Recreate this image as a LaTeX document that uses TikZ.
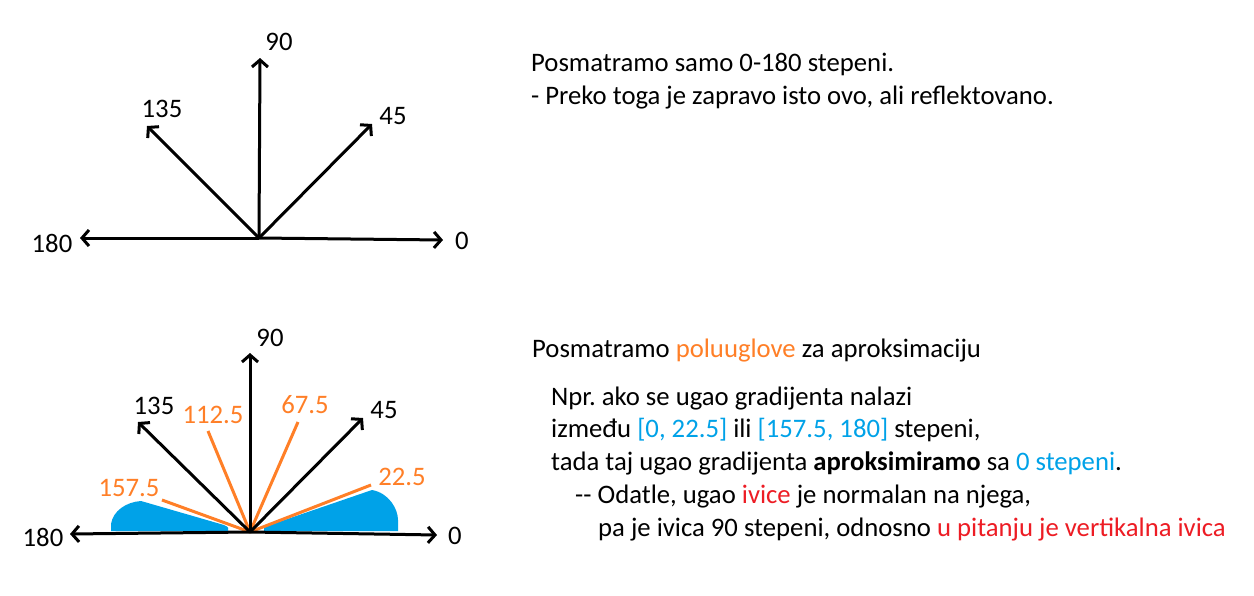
\documentclass[tikz,border=0pt]{standalone}
\usepackage{fontspec}
\setmainfont{Carlito}
\usetikzlibrary{arrows.meta}
\definecolor{porange}{HTML}{FF7F27}
\definecolor{pblue}{HTML}{00A2E8}
\definecolor{pred}{HTML}{ED1C24}
\frenchspacing
\begin{document}
\begin{tikzpicture}[x=1pt,y=-1pt,
  arr/.style={line width=3pt,-{Straight Barb[length=7pt,width=16pt,line width=3pt]}},
  oline/.style={line width=3pt,porange},
  lbl/.style={inner sep=0pt,font=\fontsize{26.7}{32}\selectfont},
  olbl/.style={lbl,text=porange},
  txt/.style={inner sep=0pt,anchor=base west,font=\fontsize{26.7}{32}\selectfont\frenchspacing},
  blob/.style={fill=pblue,draw=none}
]
\useasboundingbox[fill=white] (0,0) rectangle (1254,595);

% ---------- top diagram ----------
\coordinate (o1) at (259,238);
\coordinate (a0) at (443,240);
\coordinate (a180) at (80,238);
\coordinate (a90) at (260,58);
\coordinate (a135) at (147,126);
\coordinate (a45) at (372,124);
\draw[arr] (o1) -- (a0);
\draw[arr] (o1) -- (a180);
\draw[arr] (o1) -- (a90);
\draw[arr] (o1) -- (a135);
\draw[arr] (o1) -- (a45);
\node[lbl] (l90)  at (279,42)  {90};
\node[lbl] (l135) at (162,109) {135};
\node[lbl] (l45)  at (393,116) {45};
\node[lbl] (l180) at (52,243)  {180};
\node[lbl] (l0)   at (462,241) {0};

% ---------- bottom diagram ----------
\path[blob] (111,531) -- (111,524) .. controls (113,511) and (126,502) .. (141,501)
  -- (224,525) .. controls (229,527) and (229,529) .. (228,531) -- cycle;
\path[blob] (264,531) -- (264,527) -- (372,490)
  .. controls (389,493) and (398,509) .. (398,520) -- (398,531) -- cycle;

\coordinate (o2) at (250,532);
\coordinate (b0) at (437,535);
\coordinate (b180) at (70,534);
\coordinate (b90) at (250,353);
\coordinate (b135) at (138,422);
\coordinate (b45) at (363,418);
\coordinate (c112) at (208,431);
\coordinate (c67) at (298,422);
\coordinate (c157) at (162,500);
\coordinate (c22) at (371,485);
\draw[oline] (o2) -- (c112);
\draw[oline] (o2) -- (c67);
\draw[oline] (o2) -- (c157);
\draw[oline] (o2) -- (c22);
\draw[arr] (o2) -- (b0);
\draw[arr] (o2) -- (b180);
\draw[arr] (o2) -- (b90);
\draw[arr] (o2) -- (b135);
\draw[arr] (o2) -- (b45);
\node[lbl] (m90)  at (270,338) {90};
\node[lbl] (m135) at (154,406) {135};
\node[lbl] (m45)  at (384,410) {45};
\node[lbl] (m180) at (43,537)  {180};
\node[lbl] (m0)   at (455,536) {0};
\node[olbl] (n157) at (129,488) {157.5};
\node[olbl] (n112) at (213,415) {112.5};
\node[olbl] (n67)  at (305,405) {67.5};
\node[olbl] (n22)  at (402,477) {22.5};

% ---------- texts ----------
\node[txt] (t1) at (531,71) {Posmatramo samo 0-180 stepeni.};
\node[txt] (t2) at (531,104) {- Preko toga je zapravo isto ovo, ali reflektovano.};
\node[txt] (t3) at (532,357) {Posmatramo \textcolor{porange}{poluuglove} za aproksimaciju};
\node[txt] (t4) at (551,405) {Npr. ako se ugao gradijenta nalazi};
\node[txt] (t5) at (551,437) {između \textcolor{pblue}{[0, 22.5]} ili \textcolor{pblue}{[157.5, 180]} stepeni,};
\node[txt] (t6) at (551,470) {tada taj ugao gradijenta \textbf{aproksimiramo} sa \textcolor{pblue}{0 stepeni}.};
\node[txt] (t7) at (575,503) {-{}- Odatle, ugao \textcolor{pred}{ivice} je normalan na njega,};
\node[txt] (t8) at (598,536) {pa je ivica 90 stepeni, odnosno \textcolor{pred}{u pitanju je vertikalna ivica}};
\end{tikzpicture}
\end{document}
